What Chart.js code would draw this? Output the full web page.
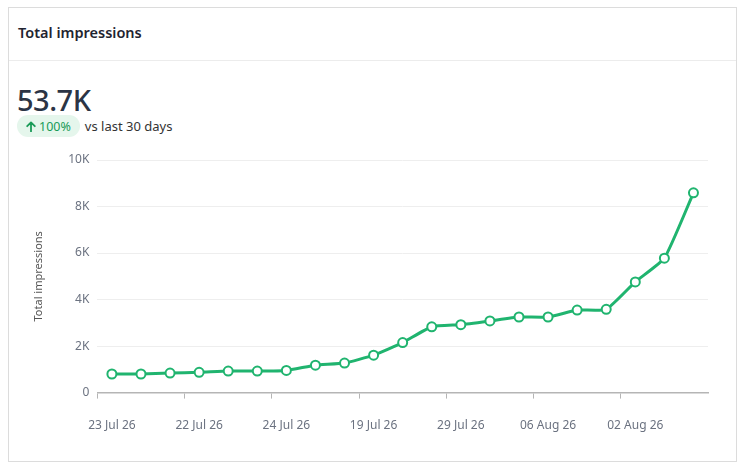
<!DOCTYPE html>
<html>
<head>
<meta charset="utf-8">
<script src="https://cdn.jsdelivr.net/npm/chart.js@4/dist/chart.umd.min.js"></script>
<style>
    body {
        margin: 0;
        width: 747px;
        height: 472px;
        background: #ffffff;
        font-family: "Noto Sans", "Open Sans", sans-serif;
        position: relative;
        overflow: hidden;
    }

    .card {
        position: absolute;
        left: 8px;
        top: 7px;
        width: 729px;
        height: 455px;
        border: 1px solid #dcdcdc;
        box-sizing: border-box;
    }

    .card-header {
        height: 53px;
        border-bottom: 1px solid #ececec;
        box-sizing: border-box;
        padding-left: 9px;
        line-height: 48px;
        font-size: 14.5px;
        font-weight: 600;
        color: #1f2430;
    }

    .big-number {
        position: absolute;
        left: 8px;
        top: 72px;
        font-size: 29px;
        font-weight: 500;
        color: #2b3445;
        letter-spacing: -0.5px;
    }

    .compare {
        position: absolute;
        left: 8px;
        top: 107px;
        display: flex;
        align-items: center;
        font-size: 13px;
        color: #333;
    }

    .badge {
        display: flex;
        align-items: center;
        background: #e5f6ec;
        color: #1a9b58;
        border-radius: 11px;
        height: 22px;
        padding: 0 9px 0 9px;
        margin-right: 5px;
        font-size: 12.5px;
    }

    .badge svg {
        margin-right: 3px;
    }

    .chart-box {
        position: absolute;
        left: 20px;
        top: 140px;
        width: 700px;
        height: 325px;
    }
</style>
</head>
<body>
    <div class="card">
        <div class="card-header">Total impressions</div>
        <div class="big-number">53.7K</div>
        <div class="compare">
            <span class="badge">
                <svg width="10" height="11" viewBox="0 0 10 11">
                    <path d="M5 10.5 V1.5 M1.2 5.2 L5 1.4 L8.8 5.2" fill="none" stroke="#1a9b58" stroke-width="1.8" stroke-linecap="round" stroke-linejoin="round"/>
                </svg>100%</span>vs last 30 days
        </div>
    </div>

    <div class="chart-box">
        <canvas id="impressionsChart"></canvas>
    </div>

<script>
    // Data
    const dayLabels = [
        '23 Jul 26', '16 Jul 26', '21 Jul 26',
        '22 Jul 26', '18 Jul 26', '20 Jul 26',
        '24 Jul 26', '17 Jul 26', '25 Jul 26',
        '19 Jul 26', '26 Jul 26', '27 Jul 26',
        '29 Jul 26', '28 Jul 26', '30 Jul 26',
        '06 Aug 26', '31 Jul 26', '01 Aug 26',
        '02 Aug 26', '03 Aug 26', '04 Aug 26'
    ];
    const impressions = [
        800, 800, 840, 870, 925, 925, 955, 1180, 1270, 1610, 2150,
        2830, 2920, 3080, 3250, 3250, 3550, 3580, 4760, 5780, 8590
    ];
    const yTicks = [0, 2000, 4000, 6000, 8000, 10000];
    const labelEvery = 3;

    const lineGreen = '#20b46f';
    const tickGrey = '#6b7280';
    const axisGrey = '#b5b5b5';

    const ctx = document.getElementById('impressionsChart').getContext('2d');
    new Chart(ctx, {
        type: 'line',
        data: {
            labels: dayLabels,
            datasets: [{
                label: 'Total impressions',
                data: impressions,
                borderColor: lineGreen,
                backgroundColor: '#ffffff',
                borderWidth: 3,
                tension: 0.15,
                pointRadius: 4.5,
                pointBorderWidth: 2,
                pointBackgroundColor: '#ffffff',
                pointBorderColor: lineGreen
            }]
        },
        options: {
            responsive: true,
            maintainAspectRatio: false,
            animation: false,
            layout: {
                padding: { left: 8, right: 12, top: 20, bottom: 12 }
            },
            plugins: {
                legend: { display: false },
                tooltip: { enabled: false }
            },
            scales: {
                x: {
                    offset: true,
                    grid: {
                        display: true,
                        drawOnChartArea: false,
                        drawTicks: true,
                        tickLength: 6,
                        offset: true,
                        // tick marks only at the start of every labelled day
                        color: c => (c.index % labelEvery === 0 ? axisGrey : 'rgba(0,0,0,0)')
                    },
                    border: { display: true, color: axisGrey, width: 1.5 },
                    ticks: {
                        autoSkip: false,
                        maxRotation: 0,
                        padding: 20,
                        color: tickGrey,
                        font: { size: 12, family: '"Noto Sans", sans-serif' },
                        callback: function (value, index) {
                            return index % labelEvery === 0 ? dayLabels[index] : '';
                        }
                    }
                },
                y: {
                    min: 0,
                    max: 10000,
                    afterBuildTicks: function (axis) {
                        axis.ticks = yTicks.map(v => ({ value: v }));
                    },
                    grid: {
                        color: '#eeeeee',
                        drawTicks: false
                    },
                    border: { display: false },
                    ticks: {
                        padding: 8,
                        color: tickGrey,
                        font: { size: 12, family: '"Noto Sans", sans-serif' },
                        callback: function (value) {
                            return value === 0 ? '0' : (value / 1000) + 'K';
                        }
                    },
                    title: {
                        display: true,
                        text: 'Total impressions',
                        color: '#555555',
                        font: { size: 11, family: '"Noto Sans", sans-serif' },
                        padding: { top: 4, bottom: 15 }
                    }
                }
            }
        }
    });
</script>
</body>
</html>
